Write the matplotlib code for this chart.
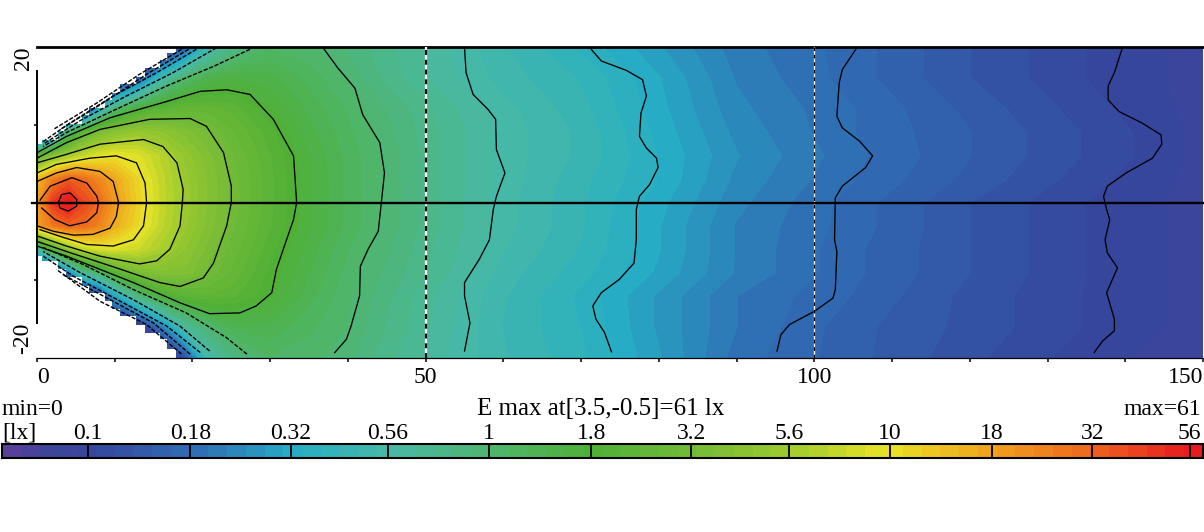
import matplotlib
matplotlib.use('Agg')
import matplotlib.pyplot as plt
import numpy as np
from matplotlib.colors import LinearSegmentedColormap

plt.rcParams['font.family'] = ['Liberation Serif', 'DejaVu Serif']

W, H = 1204, 532

# illuminance [lx], rows = y stations, columns = x stations
x_st = [0, 2, 4, 6, 8, 10, 13, 16, 19, 22, 25, 30, 35, 40, 45, 52, 60, 70, 80, 90, 105, 120, 138, 150]
y_st = [20, 16, 12, 9, 6, 3, 0, -3, -6, -9, -12, -16, -20]
E = [
    [.06, .06, .06, .06, .06, .06, .06, .06, .15, .45, .75, 1.1, 1.03, .88, .75, .6, .48, .37, .28, .21, .17, .13, .1, .09],
    [.06, .06, .06, .06, .06, .06, .14, .5, 1.0, 1.35, 1.55, 1.45, 1.2, .98, .78, .62, .5, .42, .31, .22, .17, .13, .1, .09],
    [.06, .06, .06, .07, .35, .95, 1.75, 2.2, 2.5, 2.5, 2.3, 1.75, 1.35, 1.1, .9, .7, .55, .44, .32, .23, .18, .14, .105, .09],
    [.06, .12, 1.0, 2.3, 3.5, 4.3, 5.1, 4.6, 3.9, 3.3, 2.7, 2.0, 1.45, 1.15, .93, .72, .56, .46, .33, .24, .18, .145, .11, .09],
    [2.2, 4.0, 5.6, 7.5, 9.0, 10, 9.0, 6.8, 4.9, 3.8, 3.0, 2.15, 1.55, 1.2, .97, .72, .56, .46, .34, .25, .185, .145, .11, .09],
    [14, 25, 34, 30, 23, 17, 11, 7.3, 5.3, 4.0, 3.15, 2.2, 1.6, 1.2, .97, .72, .56, .44, .34, .24, .18, .14, .105, .09],
    [18, 45, 61, 40, 30, 19, 11.5, 7.5, 5.4, 4.0, 3.2, 2.2, 1.6, 1.2, .98, .72, .55, .43, .32, .23, .17, .13, .1, .09],
    [18, 26, 32, 30, 24, 16, 10.8, 7.2, 5.2, 3.9, 3.05, 2.15, 1.58, 1.2, .96, .72, .55, .43, .31, .22, .17, .13, .1, .09],
    [.55, 2.0, 4.4, 7.0, 8.5, 8.8, 7.8, 6.0, 4.6, 3.5, 2.85, 1.98, 1.48, 1.13, .92, .7, .53, .42, .31, .22, .165, .13, .1, .09],
    [.06, .06, .2, .7, 1.0, 2.0, 3.4, 3.9, 3.9, 3.2, 2.6, 1.85, 1.4, 1.07, .88, .68, .5, .4, .3, .22, .165, .13, .1, .09],
    [.06, .06, .06, .06, .1, .3, .85, 1.7, 2.15, 2.35, 2.2, 1.78, 1.3, 1.03, .83, .63, .48, .37, .27, .2, .16, .125, .1, .09],
    [.06, .06, .06, .06, .06, .06, .07, .2, .62, .98, 1.3, 1.35, 1.15, 1.0, .8, .62, .47, .38, .27, .2, .15, .125, .1, .09],
    [.06, .06, .06, .06, .06, .06, .06, .06, .12, .52, .8, 1.1, 1.05, .93, .75, .6, .48, .39, .28, .19, .15, .12, .095, .09],
]

# stepped border of the lit wedge
edge_up_x = [0, 0.6, 2.7, 3.7, 5.8, 6.7, 8.7, 9.7, 10.7, 12.7, 13.9, 15.8, 16.7, 17.9]
edge_up_y = [7.5, 8.1, 9.2, 10.1, 11.3, 12.2, 13.2, 14.1, 15.3, 16.2, 17.3, 18.3, 19.2, 20]
edge_lo_y = [-6.9, -7.5, -8.6, -9.6, -10.8, -11.6, -12.7, -13.7, -14.6, -15.7, -16.8, -17.6, -18.9, -19.8]

# isolux lines, (x, y)
iso_lines = [
    # 56
    [(2.74, 0), (3.17, 1.03), (4.24, 1.24), (5.1, .39), (5.1, -.47), (4.03, -1.11), (2.96, -.69), (2.74, 0)],
    # 32
    [(.4, .3), (1.7, 2.1), (4.5, 3.2), (6.4, 2.5), (7.7, .8), (7.9, 0), (7.7, -1.3), (6.4, -2.5), (4.2, -3.0), (2.3, -2.2), (.6, -.7)],
    # 18
    [(0, 2.7), (2.5, 3.8), (5.1, 4.5), (8.1, 4.0), (9.8, 2.7), (10.5, 0), (10.2, -1.8), (9.4, -3.3), (7.2, -4.1), (4.7, -4.2), (2.1, -3.7), (0, -3.0)],
    # 10
    [(0, 3.8), (2.5, 4.9), (6.8, 5.7), (10.2, 6.0), (12.8, 5.1), (13.9, 2.5), (14.1, 0), (13.7, -3.0), (12.4, -4.8), (9.8, -5.6), (6.4, -5.4), (3.4, -4.5), (.4, -3.5)],
    # 5.6
    [(0, 5.1), (3.8, 6.2), (8.1, 7.5), (13.7, 8.1), (16.2, 7.2), (18, 5.1), (18.8, 1.7), (18.7, 0), (18.4, -3), (17.1, -6), (15.4, -7.5), (13.2, -7.9), (8.1, -6.9), (3.8, -5.6), (0, -4.3)],
    # 3.2
    [(0, 5.7), (3.8, 7.7), (8.1, 9.4), (14.5, 10.7), (19.7, 10.8), (21.8, 9.8), (24, 6.4), (25, 2.1), (25, 0), (24.4, -3), (22.7, -7.8), (21.4, -9.7), (18.4, -10.8), (15.8, -10.3), (10.2, -8.4), (3.8, -6.3), (0, -5)],
    # 1.8
    [(0, 6.4), (3.8, 8.5), (9.4, 10.9), (16.7, 13), (21, 14.3), (24.4, 14.5), (27.4, 13.9), (30.4, 10.7), (33, 6), (33.4, 0), (33, -2.2), (32.1, -4.8), (30.8, -8.6), (30.2, -11.6), (28.2, -13.3), (26.1, -14.2), (22.2, -14.3), (18.4, -12.9), (12.4, -10.3), (3.8, -6.9), (0, -5.6)],
    # 1
    [(36.8, 19.9), (38.7, 17.3), (40.9, 14.7), (41.9, 11.3), (44.1, 7.7), (44.7, 3.8), (44.3, 0), (43.9, -3.7), (42.6, -6), (41.6, -8.2), (41.5, -12), (40.4, -15.9), (39.8, -17.6), (38.3, -19.3)],
    # 0.56
    [(55, 19.9), (55.2, 16.7), (56.1, 13.9), (58, 12), (59, 10.7), (59.1, 6.8), (60.2, 3.8), (59.1, .8), (58.7, -.9), (58.2, -4.8), (56.9, -7.3), (55, -10.3), (55, -12), (55.7, -15.5), (55, -19.1)],
    # 0.32
    [(71.3, 19.7), (72.6, 18.2), (75.8, 17), (77.9, 15.8), (78.4, 13.7), (77.7, 11.5), (77.5, 8.5), (78.4, 7), (79.7, 5.7), (79.9, 4.5), (78.8, 2.3), (77.5, .8), (77.1, -.9), (77.1, -4.8), (76.8, -7.8), (74.9, -9.9), (72.6, -11.6), (71.5, -13.3), (71.9, -15), (73, -16.7), (73.9, -19.2)],
    # 0.18
    [(105.4, 19.8), (103.6, 17.1), (103.2, 15.4), (102.9, 11.1), (103.6, 9.6), (105.8, 7.9), (107.5, 6), (106.6, 4.5), (103.6, 2.1), (102.7, .6), (102.6, -4.8), (102.9, -6.3), (102.7, -11.2), (102.4, -12.3), (100, -14), (96.8, -15.7), (95.7, -17), (95.2, -19.1)],
    # 0.1
    [(139.6, 19.8), (138.6, 16.7), (137.8, 15), (137.8, 13.2), (139.2, 11.7), (142.2, 10.2), (144.6, 8.7), (144.7, 7.5), (143.5, 5.7), (140.1, 3.8), (137.7, 2.1), (137.2, .8), (137.6, -.9), (138, -2.2), (137.4, -4.8), (137.7, -6.5), (139, -8.4), (137.6, -11.6), (138.6, -15), (138.6, -16.5), (137.1, -17.8), (136, -19.3)],
]

# the low levels run along the wedge border
fan_lines = [
    [(27.4, 19.7), (22.7, 17.5), (16.7, 15), (10.2, 12), (3.8, 9), (.8, 7.2)],
    [(23.1, 19.9), (17.5, 16.7), (11.5, 13.7), (5.5, 10.5), (.8, 7.5)],
    [(20.5, 19.7), (15.4, 16.7), (9.8, 13.7), (4.2, 10.2), (.6, 7.7)],
    [(19.5, 19.7), (14.1, 16.5), (8.5, 12.8), (3, 9.4)],
    [(18.6, 19.7), (13.2, 16.5), (7.7, 12.8), (2.1, 9.4)],
    [(27, -19.5), (24.4, -17.4), (19.2, -14.2), (12.4, -11.2), (6, -8), (.8, -5.8)],
    [(22.2, -19.1), (18.4, -15.9), (12.4, -12.5), (5.5, -9), (.8, -6.3)],
    [(21, -19.3), (16.7, -15.9), (11.1, -12.9), (4.7, -9.5), (.8, -6.9)],
    [(19.7, -19.5), (15, -15.5), (9.4, -12.5), (3.4, -9.3)],
    [(18.6, -19.5), (14.1, -15.7), (8.1, -12.7), (2.5, -8.6)],
]

# colour scale
bar_ticks = [0.1, 0.18, 0.32, 0.56, 1, 1.8, 3.2, 5.6, 10, 18, 32, 56]
bar_tick_labels = ['0.1', '0.18', '0.32', '0.56', '1', '1.8', '3.2', '5.6', '10', '18', '32', '56']
stop_vals = [0.061, 0.075, 0.1, 0.18, 0.32, 0.56, 1, 1.8, 3.2, 5.6, 10, 18, 32, 56, 60.5]
stop_cols = ['#574099', '#3f449b', '#35479d', '#2f6fb5', '#26aec4', '#48b9a6', '#4fb56e', '#4fb035',
             '#72ba38', '#9cca2e', '#e8e427', '#f0a51e', '#ee6a1e', '#e8201f', '#e81c20']
n_steps = 64
vmin, vmax = stop_vals[0], stop_vals[-1]


def px_axes(fig, left, top, right, bottom):
    return fig.add_axes([left / W, 1 - bottom / H, (right - left) / W, (bottom - top) / H])


lo, hi = np.log10(vmin), np.log10(vmax)
pos = (np.log10(stop_vals) - lo) / (hi - lo)
cmap = LinearSegmentedColormap.from_list('lux', list(zip(pos, stop_cols)), N=n_steps)
edges = np.linspace(lo, hi, n_steps + 1)

fig = plt.figure(figsize=(W / 100, H / 100), dpi=100)

# main map
ax = px_axes(fig, 37, 47, 1203, 358)
ax.contourf(x_st, y_st, np.log10(E), levels=edges, cmap=cmap, extend='both')
ax.fill_between(edge_up_x, edge_up_y, 20.5, step='post', color='white', lw=0, zorder=2)
ax.fill_between(edge_up_x, edge_lo_y, -20.5, step='post', color='white', lw=0, zorder=2)
for line in iso_lines:
    xy = np.array(line)
    ax.plot(xy[:, 0], xy[:, 1], color='black', lw=0.95, solid_joinstyle='round', zorder=3)
for line in fan_lines:
    xy = np.array(line)
    ax.plot(xy[:, 0], xy[:, 1], color='black', lw=1.0, ls=(0, (3, 1.2)), zorder=3)

# section lines
ax.axvline(50, color='white', lw=1.6, zorder=4)
ax.axvline(50, color='black', lw=1.6, ls=(0, (2.2, 2.2)), zorder=5)
ax.axvline(100, color='white', lw=0.9, zorder=4)
ax.axvline(100, color='black', lw=0.9, ls=(0, (3, 3)), zorder=5)
ax.plot([-0.7, 150], [0, 0], color='black', lw=1.7, zorder=6, clip_on=False)

ax.set_xlim(0, 150)
ax.set_ylim(-20, 20)
ax.spines['right'].set_visible(False)
ax.spines['top'].set_linewidth(2)
ax.spines['bottom'].set_linewidth(0.9)
ax.spines['left'].set_linewidth(1.4)
ax.spines['left'].set_bounds(-15.5, 16.9)
ax.set_xticks(np.arange(0, 151, 10))
ax.set_xticklabels(['0', '', '', '', '', '50', '', '', '', '', '100', '', '', '', '', '150'], fontsize=17)
ax.get_xticklabels()[0].set_ha('left')
ax.get_xticklabels()[-1].set_ha('right')
ax.tick_params(axis='x', length=3.2, width=1.1, pad=3.5)
ax.set_yticks([-10, 10])
ax.set_yticklabels([])
ax.tick_params(axis='y', length=2.5, width=1.1)
fig.text(23 / W, 1 - 58 / H, '20', rotation=90, fontsize=17, ha='center', va='center')
fig.text(23 / W, 1 - 338 / H, '-20', rotation=90, fontsize=17, ha='center', va='center')

# header of the colour bar
fig.text(2 / W, 1 - 415 / H, 'min=0', fontsize=17, ha='left', va='baseline')
fig.text(601 / W, 1 - 415 / H, 'E max at[3.5,-0.5]=61 lx', fontsize=18, ha='center', va='baseline')
fig.text(1201 / W, 1 - 415 / H, 'max=61', fontsize=17, ha='right', va='baseline')
fig.text(2 / W, 1 - 439 / H, '[lx]', fontsize=17, ha='left', va='baseline')

# colour bar
cax = px_axes(fig, 2, 444, 1203, 458)
bar_edges = 10 ** edges
cax.pcolormesh(bar_edges, [0, 1], (edges[:-1] + edges[1:])[None, :] / 2, cmap=cmap, vmin=lo, vmax=hi)
cax.set_xscale('log')
cax.set_xlim(vmin, vmax)
cax.set_ylim(0, 1)
for val in bar_ticks:
    cax.axvline(val, color='black', lw=1.3)
cax.minorticks_off()
cax.set_yticks([])
cax.xaxis.tick_top()
cax.set_xticks(bar_ticks)
cax.set_xticklabels(bar_tick_labels, fontsize=17)
cax.tick_params(axis='x', which='both', length=0, pad=0)
for s in cax.spines.values():
    s.set_linewidth(1.5)

fig.savefig('out.png', dpi=100)
